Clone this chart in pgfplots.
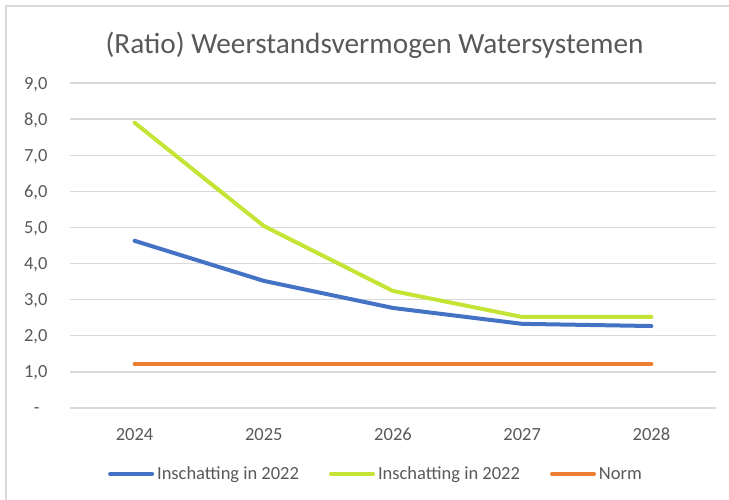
\documentclass[border=0pt]{standalone}
\usepackage{pgfplots}
\pgfplotsset{compat=1.18}
\usepackage{fontspec}
\setmainfont{Carlito}

\definecolor{txtgray}{HTML}{595959}
\definecolor{gridgray}{HTML}{D9D9D9}
\definecolor{xlblue}{HTML}{4472C4}
\definecolor{xlgreen}{HTML}{C4E535}
\definecolor{xlorange}{HTML}{ED7D31}

\begin{document}
\begin{tikzpicture}
\useasboundingbox (0,0) rectangle (729pt,500pt);
% chart frame (top and left edge visible)
\draw[gridgray, line width=1.5pt] (6pt,0pt) -- (6pt,494pt) -- (729pt,494pt);

\node[txtgray, font=\fontsize{29.3}{33}\selectfont] at (374.5pt,455pt)
  {(Ratio) Weerstandsvermogen Watersystemen};

\begin{axis}[
    at={(70pt,92pt)}, anchor=south west,
    scale only axis,
    width=646pt, height=325pt,
    xmin=-0.5, xmax=4.5,
    ymin=0, ymax=9,
    xtick={0,1,2,3,4},
    xticklabels={2024,2025,2026,2027,2028},
    ytick={0,1,...,9},
    yticklabels={{-\hspace*{8pt}},{1,0},{2,0},{3,0},{4,0},{5,0},{6,0},{7,0},{8,0},{9,0}},
    axis line style={draw=none},
    major tick length=0pt,
    ymajorgrids,
    grid style={gridgray, line width=1.3pt},
    tick label style={txtgray, font=\fontsize{18.5}{22}\selectfont},
    yticklabel style={xshift=-19pt, text height=12pt, text depth=0pt},
    xticklabel style={anchor=base, yshift=-33pt},
    legend columns=3,
    legend style={at={(0.4737,-0.203)}, anchor=center, draw=none, fill=none,
        font=\fontsize{18.5}{22}\selectfont, text=txtgray,
        inner sep=0pt,
        /tikz/every odd column/.append style={column sep=1pt},
        /tikz/every even column/.append style={column sep=28pt}},
    legend cell align=left,
    legend image code/.code={\draw[#1, line cap=round] (0pt,0pt) -- (42pt,0pt);},
]
\addplot[xlblue, line width=4pt, line join=round, line cap=round] coordinates {
    (0,4.63) (1,3.52) (2,2.77) (3,2.33) (4,2.27)
};
\addlegendentry{Inschatting in 2022}
\addplot[xlgreen, line width=4pt, line join=round, line cap=round] coordinates {
    (0,7.90) (1,5.04) (2,3.24) (3,2.52) (4,2.52)
};
\addlegendentry{Inschatting in 2022}
\addplot[xlorange, line width=4pt, line cap=round] coordinates {
    (0,1.22) (1,1.22) (2,1.22) (3,1.22) (4,1.22)
};
\addlegendentry{Norm}
\end{axis}
\end{tikzpicture}
\end{document}
